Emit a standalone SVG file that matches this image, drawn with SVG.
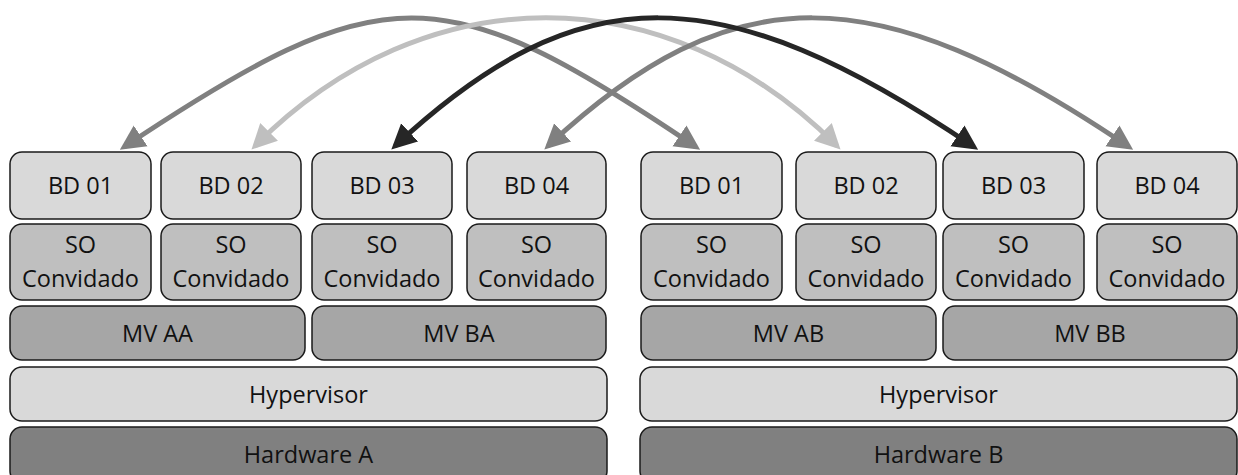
<svg xmlns="http://www.w3.org/2000/svg" width="1238" height="475" viewBox="0 0 1238 475">
<style>
.box{stroke:#1a1a1a;stroke-width:1.5}
.bd{fill:#d9d9d9}
.so{fill:#bfbfbf}
.mv{fill:#a6a6a6}
.hv{fill:#d9d9d9}
.hw{fill:#808080}
text{font-family:"Open Sans","Liberation Sans",sans-serif;font-size:23.5px;fill:#111;text-anchor:middle}
.arc{fill:none;stroke-width:5}
</style>
<defs>
<marker id="hG" markerUnits="userSpaceOnUse" viewBox="0 0 25 26" markerWidth="25" markerHeight="26" refX="20" refY="13" orient="auto-start-reverse"><path d="M0,0.5 L25,13 L0,25.5 z" fill="#808080"/></marker>
<marker id="hL" markerUnits="userSpaceOnUse" viewBox="0 0 25 26" markerWidth="25" markerHeight="26" refX="20" refY="13" orient="auto-start-reverse"><path d="M0,0.5 L25,13 L0,25.5 z" fill="#bfbfbf"/></marker>
<marker id="hB" markerUnits="userSpaceOnUse" viewBox="0 0 25 26" markerWidth="25" markerHeight="26" refX="20" refY="13" orient="auto-start-reverse"><path d="M0,0.5 L25,13 L0,25.5 z" fill="#262626"/></marker>
</defs>

<g id="left-bd01"><rect class="box bd" x="10" y="152" width="141" height="67" rx="12"/><text x="80.5" y="193.5">BD 01</text></g>
<g id="left-bd02"><rect class="box bd" x="161" y="152" width="140" height="67" rx="12"/><text x="231" y="193.5">BD 02</text></g>
<g id="left-bd03"><rect class="box bd" x="312" y="152" width="140" height="67" rx="12"/><text x="382" y="193.5">BD 03</text></g>
<g id="left-bd04"><rect class="box bd" x="467" y="152" width="139" height="67" rx="12"/><text x="536.5" y="193.5">BD 04</text></g>

<g id="left-so1"><rect class="box so" x="10" y="224" width="141" height="76" rx="12"/><text x="80.5" y="253">SO</text><text x="80.5" y="287">Convidado</text></g>
<g id="left-so2"><rect class="box so" x="161" y="224" width="140" height="76" rx="12"/><text x="231" y="253">SO</text><text x="231" y="287">Convidado</text></g>
<g id="left-so3"><rect class="box so" x="312" y="224" width="140" height="76" rx="12"/><text x="382" y="253">SO</text><text x="382" y="287">Convidado</text></g>
<g id="left-so4"><rect class="box so" x="467" y="224" width="139" height="76" rx="12"/><text x="536.5" y="253">SO</text><text x="536.5" y="287">Convidado</text></g>

<g id="mv-aa"><rect class="box mv" x="10" y="306" width="295" height="54" rx="12"/><text x="157.5" y="341.5">MV AA</text></g>
<g id="mv-ba"><rect class="box mv" x="312" y="306" width="294" height="54" rx="12"/><text x="459" y="341.5">MV BA</text></g>

<g id="hyp-a"><rect class="box hv" x="10" y="367" width="597" height="54" rx="12"/><text x="308.5" y="402.5">Hypervisor</text></g>
<g id="hw-a"><rect class="box hw" x="10" y="427" width="597" height="56" rx="12"/><text x="308.5" y="462.5">Hardware A</text></g>

<g id="right-bd01"><rect class="box bd" x="641" y="152" width="141" height="67" rx="12"/><text x="711.5" y="193.5">BD 01</text></g>
<g id="right-bd02"><rect class="box bd" x="796" y="152" width="140" height="67" rx="12"/><text x="866" y="193.5">BD 02</text></g>
<g id="right-bd03"><rect class="box bd" x="943" y="152" width="141" height="67" rx="12"/><text x="1013.5" y="193.5">BD 03</text></g>
<g id="right-bd04"><rect class="box bd" x="1097" y="152" width="140" height="67" rx="12"/><text x="1167" y="193.5">BD 04</text></g>

<g id="right-so1"><rect class="box so" x="641" y="224" width="141" height="76" rx="12"/><text x="711.5" y="253">SO</text><text x="711.5" y="287">Convidado</text></g>
<g id="right-so2"><rect class="box so" x="796" y="224" width="140" height="76" rx="12"/><text x="866" y="253">SO</text><text x="866" y="287">Convidado</text></g>
<g id="right-so3"><rect class="box so" x="943" y="224" width="141" height="76" rx="12"/><text x="1013.5" y="253">SO</text><text x="1013.5" y="287">Convidado</text></g>
<g id="right-so4"><rect class="box so" x="1097" y="224" width="140" height="76" rx="12"/><text x="1167" y="253">SO</text><text x="1167" y="287">Convidado</text></g>

<g id="mv-ab"><rect class="box mv" x="641" y="306" width="295" height="54" rx="12"/><text x="788.5" y="341.5">MV AB</text></g>
<g id="mv-bb"><rect class="box mv" x="943" y="306" width="294" height="54" rx="12"/><text x="1090" y="341.5">MV BB</text></g>

<g id="hyp-b"><rect class="box hv" x="640" y="367" width="597" height="54" rx="12"/><text x="938.5" y="402.5">Hypervisor</text></g>
<g id="hw-b"><rect class="box hw" x="640" y="427" width="597" height="56" rx="12"/><text x="938.5" y="462.5">Hardware B</text></g>

<g id="connectors">
<path class="arc" stroke="#808080" marker-start="url(#hG)" marker-end="url(#hG)" d="M124,147 C382,-25 442,-25 696,147"/>
<path class="arc" stroke="#bfbfbf" marker-start="url(#hL)" marker-end="url(#hL)" d="M255,146 C425,-25 667,-25 837,146"/>
<path class="arc" stroke="#808080" marker-start="url(#hG)" marker-end="url(#hG)" d="M548,146 C732,-25 875,-25 1129,147"/>
<path class="arc" stroke="#262626" marker-start="url(#hB)" marker-end="url(#hB)" d="M395,146 C579,-25 720,-25 974,147"/>
</g>
</svg>
